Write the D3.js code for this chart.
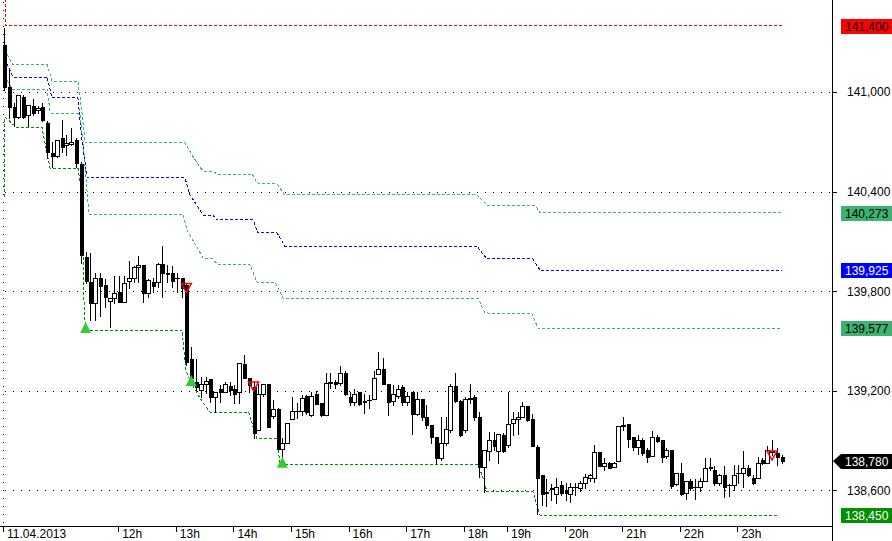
<!DOCTYPE html>
<html><head><meta charset="utf-8">
<script src="https://cdn.jsdelivr.net/npm/d3@7"></script>
<style>html,body{margin:0;padding:0;background:#fff;overflow:hidden}svg{display:block;font-family:"Liberation Sans",Arial,sans-serif}</style>
</head><body><svg id="c" width="892" height="541"></svg>
<script>
// ---------------- DATA ----------------
const opens=[141.283,141.030,140.910,140.849,140.970,140.861,140.916,140.892,140.910,140.813,140.632,140.614,140.723,140.681,140.687,140.711,140.566,140.006,139.855,139.729,139.879,139.837,139.741,139.759,139.795,139.735,139.861,139.879,139.946,139.958,139.789,139.855,139.855,139.964,139.909,139.909,139.879,139.879,139.837,139.392,139.253,139.205,139.241,139.271,139.163,139.211,139.193,139.229,139.211,139.193,139.361,139.277,139.223,138.964,139.181,139.241,139.048,139.090,138.850,138.886,139.030,139.078,139.078,139.169,139.054,139.181,139.127,139.054,139.247,139.253,139.247,139.307,139.163,139.133,139.193,139.139,139.145,139.151,139.301,139.331,139.241,139.139,139.169,139.223,139.133,139.193,139.060,139.151,139.042,138.994,138.922,138.796,138.886,138.964,139.229,139.139,138.964,139.151,139.163,139.042,138.742,138.838,138.904,138.838,138.934,138.874,139.006,139.030,139.042,139.108,139.030,138.862,138.694,138.592,138.616,138.580,138.634,138.604,138.580,138.622,138.616,138.646,138.676,138.676,138.832,138.748,138.766,138.742,138.778,138.988,139.000,138.922,138.862,138.904,138.844,138.808,138.922,138.904,138.808,138.844,138.640,138.706,138.586,138.658,138.622,138.622,138.658,138.742,138.724,138.646,138.694,138.634,138.634,138.706,138.706,138.736,138.676,138.676,138.784,138.766,138.832,138.826,138.802];
const highs=[141.386,141.132,140.934,140.982,140.982,140.922,140.958,140.916,140.934,140.825,140.699,140.711,140.831,140.741,140.783,140.723,140.578,140.036,140.030,139.909,139.909,139.873,139.759,139.891,139.891,139.891,139.982,139.952,140.012,139.958,139.873,139.879,139.970,140.072,139.958,139.952,139.909,139.879,139.849,139.464,139.392,139.283,139.283,139.271,139.193,139.235,139.253,139.253,139.235,139.367,139.416,139.277,139.253,139.241,139.241,139.241,139.145,139.096,138.916,139.006,139.163,139.127,139.175,139.175,139.193,139.199,139.127,139.307,139.307,139.265,139.349,139.319,139.193,139.211,139.193,139.181,139.175,139.319,139.434,139.398,139.241,139.235,139.235,139.235,139.193,139.193,139.193,139.151,139.114,138.994,138.922,139.042,139.042,139.241,139.307,139.145,139.163,139.241,139.175,139.072,138.844,138.952,138.952,138.940,138.946,139.193,139.072,139.072,139.133,139.108,139.060,138.874,138.694,138.670,138.640,138.676,138.658,138.646,138.646,138.646,138.658,138.700,138.700,138.874,138.832,138.796,138.772,138.772,138.988,139.042,139.000,138.922,138.934,138.916,138.856,138.958,138.934,138.904,138.856,138.844,138.706,138.766,138.658,138.670,138.670,138.676,138.796,138.796,138.748,138.700,138.748,138.640,138.754,138.754,138.838,138.754,138.694,138.802,138.796,138.868,138.904,138.856,138.814];
const lows=[141.012,140.843,140.795,140.843,140.843,140.795,140.861,140.874,140.825,140.602,140.548,140.608,140.638,140.620,140.681,140.548,139.970,139.849,139.627,139.627,139.651,139.705,139.584,139.729,139.735,139.735,139.819,139.855,139.855,139.735,139.765,139.795,139.825,139.765,139.855,139.825,139.795,139.765,139.355,139.265,139.205,139.163,139.187,139.133,139.072,139.133,139.193,139.175,139.127,139.127,139.277,139.193,138.916,138.964,139.169,138.982,139.036,138.850,138.802,138.886,139.030,139.036,139.054,139.060,139.048,139.121,139.048,139.054,139.217,139.217,139.235,139.175,139.114,139.114,139.114,139.066,139.096,139.151,139.301,139.241,139.054,139.114,139.157,139.114,139.114,138.940,139.054,139.024,138.976,138.886,138.766,138.784,138.874,138.952,139.133,138.928,138.952,139.127,139.024,138.682,138.592,138.784,138.844,138.766,138.832,138.862,138.934,138.940,139.042,139.018,138.868,138.460,138.514,138.508,138.544,138.526,138.574,138.544,138.532,138.574,138.598,138.616,138.658,138.652,138.748,138.724,138.736,138.742,138.778,138.964,138.862,138.844,138.820,138.814,138.772,138.808,138.892,138.772,138.796,138.616,138.634,138.574,138.550,138.604,138.550,138.598,138.658,138.724,138.634,138.634,138.562,138.568,138.604,138.646,138.622,138.688,138.640,138.676,138.760,138.766,138.814,138.754,138.766];
const closes=[141.030,140.910,140.849,140.982,140.849,140.922,140.874,140.904,140.831,140.638,140.614,140.711,140.669,140.693,140.699,140.572,140.018,139.861,139.729,139.879,139.831,139.765,139.759,139.789,139.735,139.849,139.879,139.946,139.958,139.789,139.867,139.831,139.964,139.909,139.903,139.861,139.879,139.819,139.374,139.277,139.223,139.241,139.259,139.163,139.193,139.193,139.241,139.205,139.181,139.367,139.277,139.235,138.946,139.181,139.241,138.982,139.090,138.850,138.886,139.006,139.078,139.078,139.157,139.072,139.169,139.121,139.054,139.247,139.253,139.241,139.307,139.181,139.133,139.181,139.121,139.133,139.145,139.277,139.331,139.241,139.133,139.181,139.211,139.133,139.169,139.060,139.151,139.042,138.994,138.922,138.796,138.886,138.970,139.229,139.139,138.934,139.151,139.157,139.042,138.742,138.844,138.904,138.868,138.940,138.838,139.000,139.030,139.042,139.108,139.024,138.868,138.676,138.580,138.586,138.610,138.622,138.586,138.586,138.622,138.622,138.646,138.682,138.694,138.832,138.748,138.766,138.736,138.766,138.988,138.994,138.910,138.862,138.904,138.826,138.802,138.922,138.898,138.802,138.844,138.628,138.706,138.580,138.658,138.616,138.622,138.658,138.736,138.736,138.646,138.694,138.622,138.634,138.694,138.706,138.736,138.694,138.646,138.766,138.766,138.844,138.838,138.802,138.780];

const yTickValues=[141.0,140.4,139.8,139.2,138.6];
const xTickBars=[0,24,36,48,60,72,84,96,105,117,129,141,153];
const xTickLabels=["11.04.2013","12h","13h","14h","15h","16h","17h","18h","19h","20h","21h","22h","23h"];

// step lines: [bar index, price]
const resistanceLine=[[0.4,141.65],[0.4,141.400],[162,141.400]];
const upperBand=[[0.2,141.253],[1.25,141.193],[1.9,141.163],[9.0,141.163],[10,141.066],[15.4,141.066],[16.25,140.874],[16.9,140.693],[37.7,140.693],[39.2,140.620],[40.8,140.548],[41.5,140.524],[43.5,140.524],[44.4,140.506],[51.7,140.506],[52.7,140.452],[56.9,140.446],[58.5,140.380],[98.5,140.380],[100.6,140.319],[110.6,140.319],[111.7,140.273],[162,140.273]];
const middleBand=[[0.6,141.169],[1.9,141.090],[9.0,141.090],[10,140.964],[15.4,140.964],[16.25,140.711],[17.3,140.488],[17.5,140.482],[37.7,140.482],[38.75,140.380],[41.5,140.259],[43.5,140.259],[44.4,140.229],[51.9,140.229],[52.9,140.151],[56.9,140.151],[58.5,140.072],[98.5,140.072],[100.6,139.994],[110.2,139.994],[111.7,139.925],[162,139.925]];
const lowerBand=[[0.6,141.072],[1.67,141.018],[9.0,141.018],[9.6,140.879],[10,140.868],[15.8,140.868],[16.5,140.693],[17.1,140.470],[17.7,140.265],[37.3,140.265],[38.1,140.169],[41.5,140.000],[43.5,139.994],[44.6,139.958],[51.25,139.958],[52.7,139.855],[56.5,139.855],[58.1,139.759],[98.75,139.759],[100.2,139.669],[110,139.663],[111.25,139.577],[162,139.577]];
const stopLine=[[0.1,140.368],[0.2,140.849],[2.5,140.789],[7.9,140.789],[9.6,140.542],[15.4,140.542],[16.5,140.349],[16.7,139.627],[17.5,139.566],[37.1,139.566],[37.9,139.325],[38.75,139.259],[40.8,139.157],[42.9,139.072],[51.0,139.072],[51.9,138.982],[52.7,138.910],[56.9,138.910],[57.5,138.754],[98.75,138.754],[99.8,138.676],[100.6,138.592],[110.2,138.592],[111.0,138.514],[111.7,138.450],[161.5,138.450]];

const buySignalBars=[17,39,58];
const buySignalPrices=[139.578,139.259,138.766];
const sellSignalBars=[38,52,160];
const sellSignalPrices=[139.822,139.229,138.813];

const priceTags=[141.400,140.273,139.925,139.577,138.780,138.450];

// ---------------- STYLES ----------------
const tagStyles=[
  {bg:"#ff0000",fg:"#000"},
  {bg:"#3cb371",fg:"#000"},
  {bg:"#0000ff",fg:"#fff"},
  {bg:"#3cb371",fg:"#000"},
  {bg:"#000000",fg:"#fff",arrow:true},
  {bg:"#009000",fg:"#fff"}
];

// ---------------- CHART ----------------
const svg=d3.select("#c");
const axisX=832, axisY=526;
const x=d3.scaleLinear().domain([0,162]).range([4,4+4.8*162]);
const y=d3.scaleLinear().domain([141.0,138.6]).range([92,490.4]);
const fmt=v=>v.toFixed(3).replace(".",",");

svg.append("defs").append("clipPath").attr("id","plot")
  .append("rect").attr("x",0).attr("y",0).attr("width",axisX).attr("height",axisY);

// grid
const grid=svg.append("g").attr("shape-rendering","crispEdges");
grid.selectAll("line.h").data(yTickValues).join("line")
  .attr("x1",5).attr("x2",axisX)
  .attr("y1",d=>Math.round(y(d))+0.5).attr("y2",d=>Math.round(y(d))+0.5)
  .attr("stroke","#000").attr("stroke-dasharray","1,7");
// day separator
grid.append("line").attr("x1",Math.round(x(0))-0.5).attr("x2",Math.round(x(0))-0.5)
  .attr("y1",2).attr("y2",axisY).attr("stroke","#000").attr("stroke-dasharray","1,7");

// lines
const line=d3.line().x(d=>x(d[0])).y(d=>y(d[1]));
const lg=svg.append("g").attr("clip-path","url(#plot)").attr("fill","none").attr("stroke-width",1).attr("shape-rendering","crispEdges");
const drawLine=(data,color)=>lg.append("path").datum(data).attr("d",line).attr("stroke",color).attr("stroke-dasharray","3,2");
drawLine(resistanceLine,"#ff0000");
drawLine(upperBand,"#3cb371");
drawLine(middleBand,"#0000ff");
drawLine(lowerBand,"#3cb371");
drawLine(stopLine,"#008c00");

// candles
const bars=opens.map((o,i)=>({i,o,h:highs[i],l:lows[i],c:closes[i]}));
const cg=svg.append("g").attr("shape-rendering","crispEdges");
const cand=cg.selectAll("g").data(bars).join("g");
cand.append("line")
  .attr("x1",d=>Math.round(x(d.i))+0.5).attr("x2",d=>Math.round(x(d.i))+0.5)
  .attr("y1",d=>Math.round(y(d.h))).attr("y2",d=>Math.round(y(d.l))+1)
  .attr("stroke","#000");
cand.each(function(d){
  const g=d3.select(this);
  const cx=Math.round(x(d.i));
  const top=Math.round(y(Math.max(d.o,d.c))), bot=Math.round(y(Math.min(d.o,d.c)));
  if(d.c<d.o){
    g.append("rect").attr("x",cx-1).attr("y",top).attr("width",4).attr("height",Math.max(1,bot-top+1)).attr("fill","#000");
  } else if(d.c>d.o){
    g.append("rect").attr("x",cx-1.5).attr("y",top+0.5).attr("width",4).attr("height",Math.max(1,bot-top)).attr("fill","#fff").attr("stroke","#000");
  } else {
    g.append("line").attr("x1",cx-2).attr("x2",cx+3).attr("y1",top+0.5).attr("y2",top+0.5).attr("stroke","#000");
  }
});

// signals
const sg=svg.append("g");
sg.selectAll("path.buy").data(buySignalBars).join("path")
  .attr("d",(b,k)=>{const cx=x(b),cy=y(buySignalPrices[k]);return `M${cx},${cy-6}L${cx+5.5},${cy+5}L${cx-5.5},${cy+5}Z`;})
  .attr("fill","#32cd32");
sg.selectAll("path.sell").data(sellSignalBars).join("path")
  .attr("d",(b,k)=>{const cx=x(b),cy=y(sellSignalPrices[k]);return `M${cx-5},${cy-4}L${cx+5},${cy-4}L${cx},${cy+5}Z`;})
  .attr("fill","none").attr("stroke","#ff0000").attr("stroke-width",1.5);

// axes lines
svg.append("line").attr("x1",0).attr("x2",axisX).attr("y1",axisY+0.5).attr("y2",axisY+0.5).attr("stroke","#000").attr("shape-rendering","crispEdges");
svg.append("line").attr("x1",axisX+0.5).attr("x2",axisX+0.5).attr("y1",0).attr("y2",541).attr("stroke","#000").attr("shape-rendering","crispEdges");

// y axis
const ya=svg.append("g").attr("transform",`translate(${axisX},0)`)
  .call(d3.axisRight(y).tickValues(yTickValues).tickSize(5).tickPadding(10).tickFormat(fmt));
ya.select(".domain").remove();
ya.selectAll("text").attr("font-size",12).attr("font-family","Liberation Sans, Arial, sans-serif").attr("fill","#000");
ya.selectAll("line").attr("shape-rendering","crispEdges");

// x axis
const xa=svg.append("g").attr("transform",`translate(-1,${axisY})`)
  .call(d3.axisBottom(x).tickValues(xTickBars).tickSize(6).tickFormat((d,k)=>xTickLabels[k]));
xa.select(".domain").remove();
xa.selectAll("line").attr("shape-rendering","crispEdges");
xa.selectAll("text").attr("text-anchor","start").attr("x",3.5).attr("y",12).attr("dy",0)
  .attr("font-size",12).attr("font-family","Liberation Sans, Arial, sans-serif").attr("fill","#000");

// price tags
const tg=svg.append("g");
priceTags.forEach((v,k)=>{
  const st=tagStyles[k];
  const cy=Math.round(y(v));
  if(st.arrow){
    tg.append("path").attr("d",`M${axisX+1},${cy}L${axisX+9},${cy-7}L892,${cy-7}L892,${cy+8}L${axisX+9},${cy+8}Z`).attr("fill",st.bg);
  } else {
    tg.append("rect").attr("x",841).attr("y",cy-7).attr("width",51).attr("height",15).attr("fill",st.bg);
  }
  tg.append("text").attr("x",845).attr("y",cy+5).attr("font-size",12).attr("fill",st.fg).text(fmt(v));
});
</script></body></html>
